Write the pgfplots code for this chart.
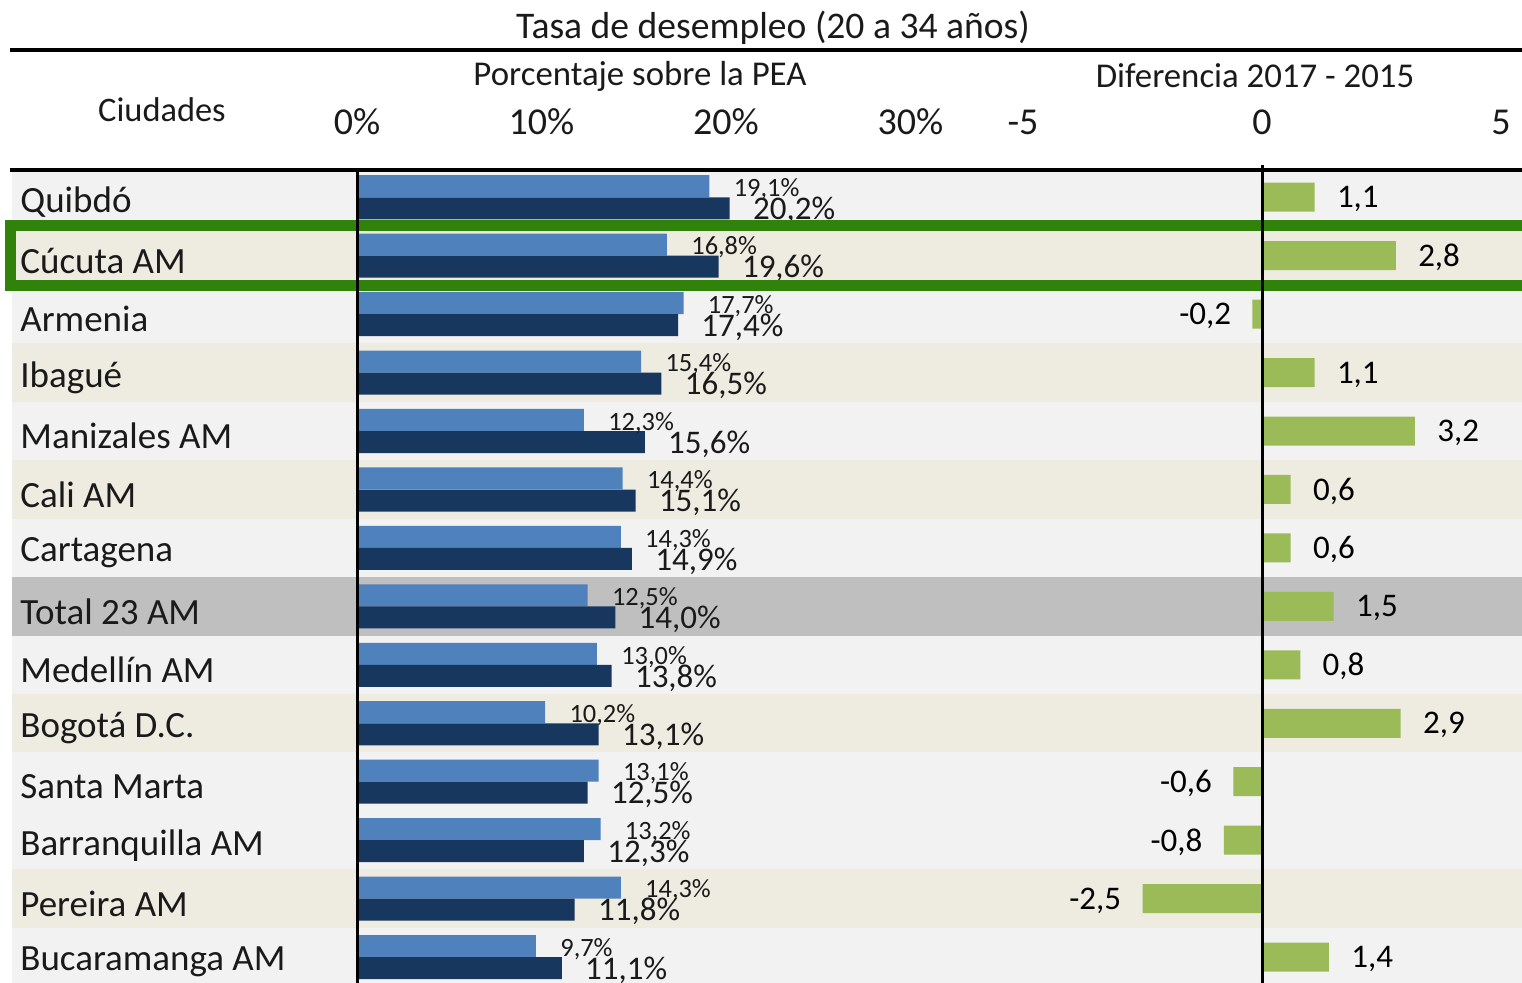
\documentclass[border=0pt]{standalone}
\usepackage{pgfplots}
\pgfplotsset{compat=1.18}
\usepackage{pgfplotstable}
\usepackage{fontspec}
\setmainfont{Carlito}
\pgfkeys{/pgf/number format/assume math mode=true}
\definecolor{lblue}{HTML}{4F81BD}
\definecolor{dblue}{HTML}{17375E}
\definecolor{lgreen}{HTML}{9BBB59}
\definecolor{hgreen}{HTML}{31820A}
\definecolor{bgA}{HTML}{F2F2F2}
\definecolor{bgB}{HTML}{EEECE1}
\definecolor{bgT}{HTML}{BFBFBF}
\definecolor{txt}{HTML}{1A1A1A}
\newcommand{\fs}[1]{\fontsize{#1}{#1}\selectfont}

\pgfplotstableread{
idx v15 v17 d
1 19.1 20.2 1.1
2 16.8 19.6 2.8
3 17.7 17.4 -0.2
4 15.4 16.5 1.1
5 12.3 15.6 3.2
6 14.4 15.1 0.6
7 14.3 14.9 0.6
8 12.5 14.0 1.5
9 13.0 13.8 0.8
10 10.2 13.1 2.9
11 13.1 12.5 -0.6
12 13.2 12.3 -0.8
13 14.3 11.8 -2.5
14 9.7 11.1 1.4
}\datatab

\begin{document}
\begin{tikzpicture}[x=0.5pt,y=0.5pt]
\path[use as bounding box] (0,0) rectangle (1522,983);
\begin{scope}
\clip (0,0) rectangle (1522,983);
\foreach \i/\c in {1/bgA,2/bgB,3/bgA,4/bgB,5/bgA,6/bgB,7/bgA,8/bgT,9/bgA,10/bgB,11/bgA,12/bgA,13/bgB,14/bgA}{
  \fill[\c] (12,{815-58.45*(\i-1)}) rectangle (1522,{815-58.45*\i});
}
\end{scope}
\coordinate (LA) at (357,0);
\coordinate (RA) at (1000,0);

\begin{axis}[at={(LA)}, anchor=south west, scale only axis,
  width=452.5pt, height=407.5pt,
  xmin=0, xmax=49.05, ymin=0.5, ymax=14.444, y dir=reverse,
  axis line style={draw=none}, major tick length=0pt,
  xtick={0,10,20,30}, xticklabels={0\%,10\%,20\%,30\%},
  xticklabel pos=upper,
  xticklabel style={anchor=center, yshift=23pt, font=\fs{19}, text=txt},
  ytick={1,...,14},
  yticklabels={Quibdó,Cúcuta AM,Armenia,Ibagué,Manizales AM,Cali AM,Cartagena,Total 23 AM,Medellín AM,Bogotá D.C.,Santa Marta,Barranquilla AM,Pereira AM,Bucaramanga AM},
  yticklabel style={anchor=west, inner sep=0pt, xshift=-168.5pt, yshift=-2.5pt, font=\fs{18.5}, text=txt},
  clip=false]
\addplot[xbar, bar shift=0pt, bar width=11pt, fill=lblue, draw=none, point meta=x,
  nodes near coords={\pgfmathprintnumber[fixed,fixed zerofill,precision=1,use comma]{\pgfplotspointmeta}\%},
  nodes near coords style={anchor=west, inner sep=0pt, xshift=12pt, yshift=-1.5pt, font=\fs{13.2}, text=txt}]
  table[x=v15, y expr=\thisrow{idx}-0.189] {\datatab};
\addplot[xbar, bar shift=0pt, bar width=11pt, fill=dblue, draw=none, point meta=x,
  nodes near coords={\pgfmathprintnumber[fixed,fixed zerofill,precision=1,use comma]{\pgfplotspointmeta}\%},
  nodes near coords style={anchor=west, inner sep=0pt, xshift=11.5pt, yshift=-1pt, font=\fs{16.5}, text=txt}]
  table[x=v17, y expr=\thisrow{idx}+0.189] {\datatab};
\end{axis}

\begin{axis}[at={(RA)}, anchor=south west, scale only axis,
  width=261pt, height=407.5pt,
  xmin=-5.481, xmax=5.439, ymin=0.5, ymax=14.444, y dir=reverse,
  axis line style={draw=none}, major tick length=0pt,
  xtick={-5,0,5}, xticklabels={-5,0,5},
  xticklabel pos=upper,
  xticklabel style={anchor=center, yshift=23pt, font=\fs{19}, text=txt},
  ytick=\empty, clip=false]
\addplot[xbar, bar shift=0pt, bar width=14.5pt, fill=lgreen, draw=none, point meta=x,
  restrict x to domain=0:10,
  nodes near coords={\pgfmathprintnumber[fixed,fixed zerofill,precision=1,use comma]{\pgfplotspointmeta}},
  nodes near coords style={anchor=west, inner sep=0pt, xshift=11pt, yshift=-1pt, font=\fs{16.5}, text=black}]
  table[x=d, y=idx] {\datatab};
\addplot[xbar, bar shift=0pt, bar width=14.5pt, fill=lgreen, draw=none, point meta=x,
  restrict x to domain=-10:-0.01,
  nodes near coords={\pgfmathprintnumber[fixed,fixed zerofill,precision=1,use comma]{\pgfplotspointmeta}},
  nodes near coords style={anchor=east, inner sep=0pt, xshift=-10.5pt, yshift=-1pt, font=\fs{16.5}, text=black}]
  table[x=d, y=idx] {\datatab};
\end{axis}

\draw[hgreen, line width=5.5pt] (10,757) rectangle (1540,697);
\draw[line width=1.75pt] (10,933) -- (1522,933);
\draw[line width=1.75pt] (10,813) -- (1522,813);
\draw[line width=1.5pt] (357,813) -- (357,0);
\draw[line width=1.5pt] (1262,818) -- (1262,0);

\node[font=\fs{18.8}, text=txt] at (773,955) {Tasa de desempleo (20 a 34 años)};
\node[font=\fs{17.4}, text=txt] at (640,907) {Porcentaje sobre la PEA};
\node[font=\fs{17.4}, text=txt] at (1255,907) {Diferencia 2017 - 2015};
\node[font=\fs{17.2}, text=txt] at (162,873) {Ciudades};
\end{tikzpicture}
\end{document}
